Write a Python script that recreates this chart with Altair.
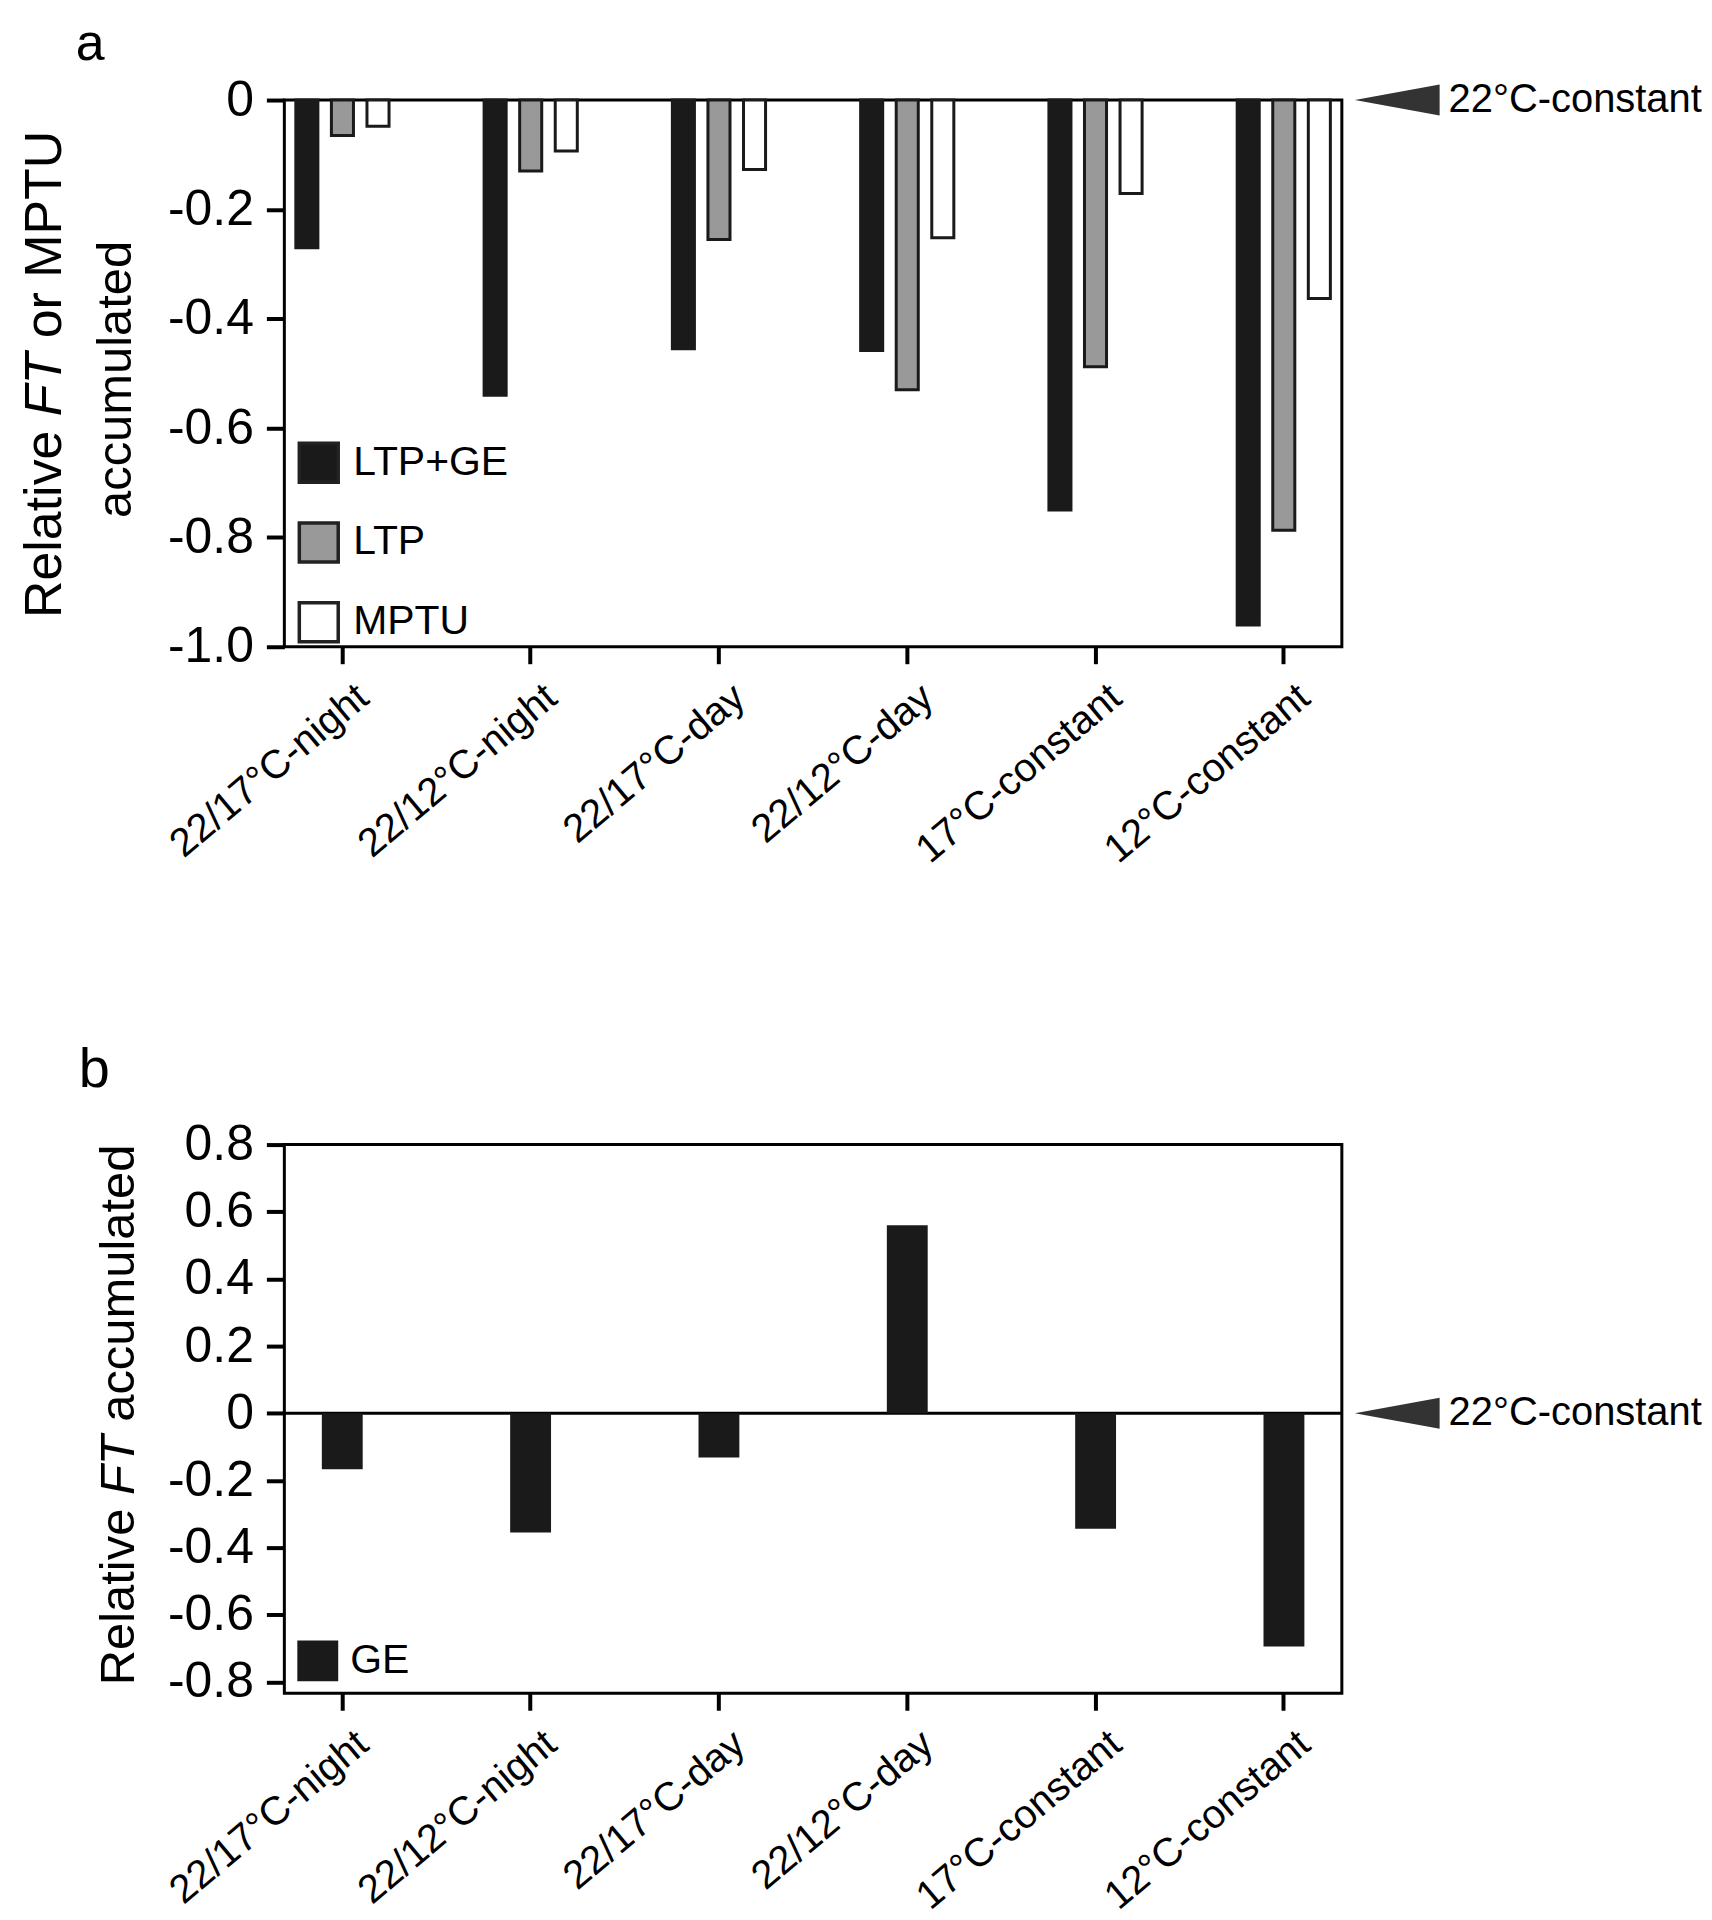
import altair as alt
import pandas as pd

# ---------------- data ----------------
conditions = ["22/17°C-night", "22/12°C-night", "22/17°C-day",
              "22/12°C-day", "17°C-constant", "12°C-constant"]
series_a = ["LTP+GE", "LTP", "MPTU"]
ltp_ge = [-0.27, -0.54, -0.455, -0.458, -0.75, -0.96]
ltp = [-0.065, -0.13, -0.255, -0.53, -0.488, -0.787]
mptu = [-0.048, -0.093, -0.127, -0.252, -0.171, -0.363]
series_b = ["GE"]
ge = [-0.167, -0.355, -0.132, 0.56, -0.344, -0.695]
ticks_a = [0, -0.2, -0.4, -0.6, -0.8, -1.0]
ticks_b = [0.8, 0.6, 0.4, 0.2, 0, -0.2, -0.4, -0.6, -0.8]
fills_a = ["#1a1a1a", "#999999", "#ffffff"]
fills_b = ["#1a1a1a"]
ref_label = "22°C-constant"

rows = []
for s, vals in zip(series_a, [ltp_ge, ltp, mptu]):
    for c, v in zip(conditions, vals):
        rows.append({"condition": c, "series": s, "value": v})
df_a = pd.DataFrame(rows)
df_b = pd.DataFrame({"condition": conditions, "series": series_b * len(conditions), "value": ge})
ref = pd.DataFrame({"label": [ref_label], "value": [0]})
one = pd.DataFrame({"k": [0]})

FONT = "Liberation Sans"
W = 1060
H_A = 548
H_B = 550
LABEL_EXPR = "datum.value == 0 ? '0' : replace(format(datum.value, '.1f'), '\u2212', '-')"


def x_axis():
    return alt.Axis(title=None, labelAngle=-40, labelAlign="right", labelBaseline="top",
                    labelFontSize=40, labelFont=FONT, labelColor="black", labelLimit=500,
                    tickSize=17, tickWidth=4, tickColor="black", domain=False,
                    labelPadding=13, labelOffset=8)


def y_axis(vals):
    return alt.Axis(title=None, values=vals, labelExpr=LABEL_EXPR, labelFontSize=50,
                    labelFont=FONT, labelColor="black", labelLimit=300,
                    tickSize=18, tickWidth=4, tickColor="black", domain=False,
                    grid=False, labelPadding=13)


def txt(s, x, y, size, align="left", angle=270, style="normal", baseline="alphabetic"):
    return alt.Chart(one).mark_text(text=s, font=FONT, fontSize=size, fontStyle=style,
                                    align=align, baseline=baseline, angle=angle,
                                    color="black").encode(x=alt.value(x), y=alt.value(y))


TRI = "M -1 0 L 1 -0.365 L 1 0.365 Z"

# ---------------- panel a ----------------
bars_a = alt.Chart(df_a).mark_bar(stroke="#1a1a1a", strokeWidth=3).encode(
    x=alt.X("condition:N", sort=conditions,
            scale=alt.Scale(paddingInner=0.505, paddingOuter=0.061), axis=x_axis()),
    xOffset=alt.XOffset("series:N", sort=series_a,
                        scale=alt.Scale(paddingInner=0.38, paddingOuter=0)),
    y=alt.Y("value:Q", scale=alt.Scale(domain=[-1.0, 0], nice=False, zero=False),
            axis=y_axis(ticks_a)),
    fill=alt.Fill("series:N", sort=series_a,
                  scale=alt.Scale(domain=series_a, range=fills_a),
                  legend=alt.Legend(title=None, orient="none", legendX=13, legendY=342,
                                    symbolType="square", symbolSize=1521,
                                    symbolStrokeColor="#222222", symbolStrokeWidth=3.5,
                                    labelFontSize=41, labelFont=FONT, labelColor="black",
                                    labelOffset=13, rowPadding=27, padding=0,
                                    labelLimit=400)),
)

arrow_a = alt.Chart(ref).mark_point(shape=TRI, size=7225, filled=True, color="#333333",
                                    opacity=1).encode(x=alt.value(1115.5), y="value:Q")
reftext_a = alt.Chart(ref).mark_text(align="left", baseline="middle", fontSize=40, font=FONT,
                                     color="black").encode(x=alt.value(1167), y="value:Q",
                                                           text="label:N")

fa = 52
ya0 = 275 + (3.612 + 0.278 + 1.222 + 4.278) * fa / 2
title_a = [
    txt("Relative", -224, ya0, fa),
    txt("FT", -224, ya0 - (3.612 + 0.278) * fa, fa, style="italic"),
    txt("or MPTU", -224, ya0 - (3.612 + 0.278 + 1.222 + 0.278) * fa, fa),
    txt("accumulated", -154, 280, 49, align="center"),
    txt("a", -209, -40, 52, angle=0),
]

panel_a = alt.layer(bars_a, arrow_a, reftext_a, *title_a).properties(width=W, height=H_A)

# ---------------- panel b ----------------
bars_b = alt.Chart(df_b).mark_bar().encode(
    x=alt.X("condition:N", sort=conditions,
            scale=alt.Scale(paddingInner=0.783, paddingOuter=0.199), axis=x_axis()),
    y=alt.Y("value:Q", scale=alt.Scale(domain=[-0.834, 0.8], nice=False, zero=False),
            axis=y_axis(ticks_b)),
    fill=alt.Fill("series:N", scale=alt.Scale(domain=series_b, range=fills_b),
                  legend=alt.Legend(title=None, orient="none", legendX=13, legendY=497,
                                    symbolType="square", symbolSize=1681,
                                    symbolStrokeWidth=0,
                                    labelFontSize=41, labelFont=FONT, labelColor="black",
                                    labelOffset=12, padding=0, labelLimit=400)),
)
zero_b = alt.Chart(ref).mark_rule(color="black", strokeWidth=3).encode(y="value:Q")
arrow_b = alt.Chart(ref).mark_point(shape=TRI, size=7225, filled=True, color="#333333",
                                    opacity=1).encode(x=alt.value(1115.5), y="value:Q")
reftext_b = alt.Chart(ref).mark_text(align="left", baseline="middle", fontSize=40, font=FONT,
                                     color="black").encode(x=alt.value(1167), y="value:Q",
                                                           text="label:N")
fb = 49
yb0 = 271 + (3.612 + 0.278 + 1.222 + 0.278 + 5.669) * fb / 2
title_b = [
    txt("Relative", -151, yb0, fb),
    txt("FT", -151, yb0 - (3.612 + 0.278) * fb, fb, style="italic"),
    txt("accumulated", -151, yb0 - (3.612 + 0.278 + 1.222 + 0.278) * fb, fb),
    txt("b", -206, -58, 56, angle=0),
]

panel_b = alt.layer(zero_b, bars_b, arrow_b, reftext_b, *title_b).properties(width=W, height=H_B)

chart = alt.vconcat(panel_a, panel_b, spacing=168).resolve_scale(
    x="independent", y="independent", fill="independent"
).resolve_legend(fill="independent").properties(
    padding={"left": 9, "top": 6, "right": 0, "bottom": 0},
    background="white",
).configure_view(stroke="black", strokeWidth=3)

chart.save("out.html", embed_options={"renderer": "svg", "actions": False})
